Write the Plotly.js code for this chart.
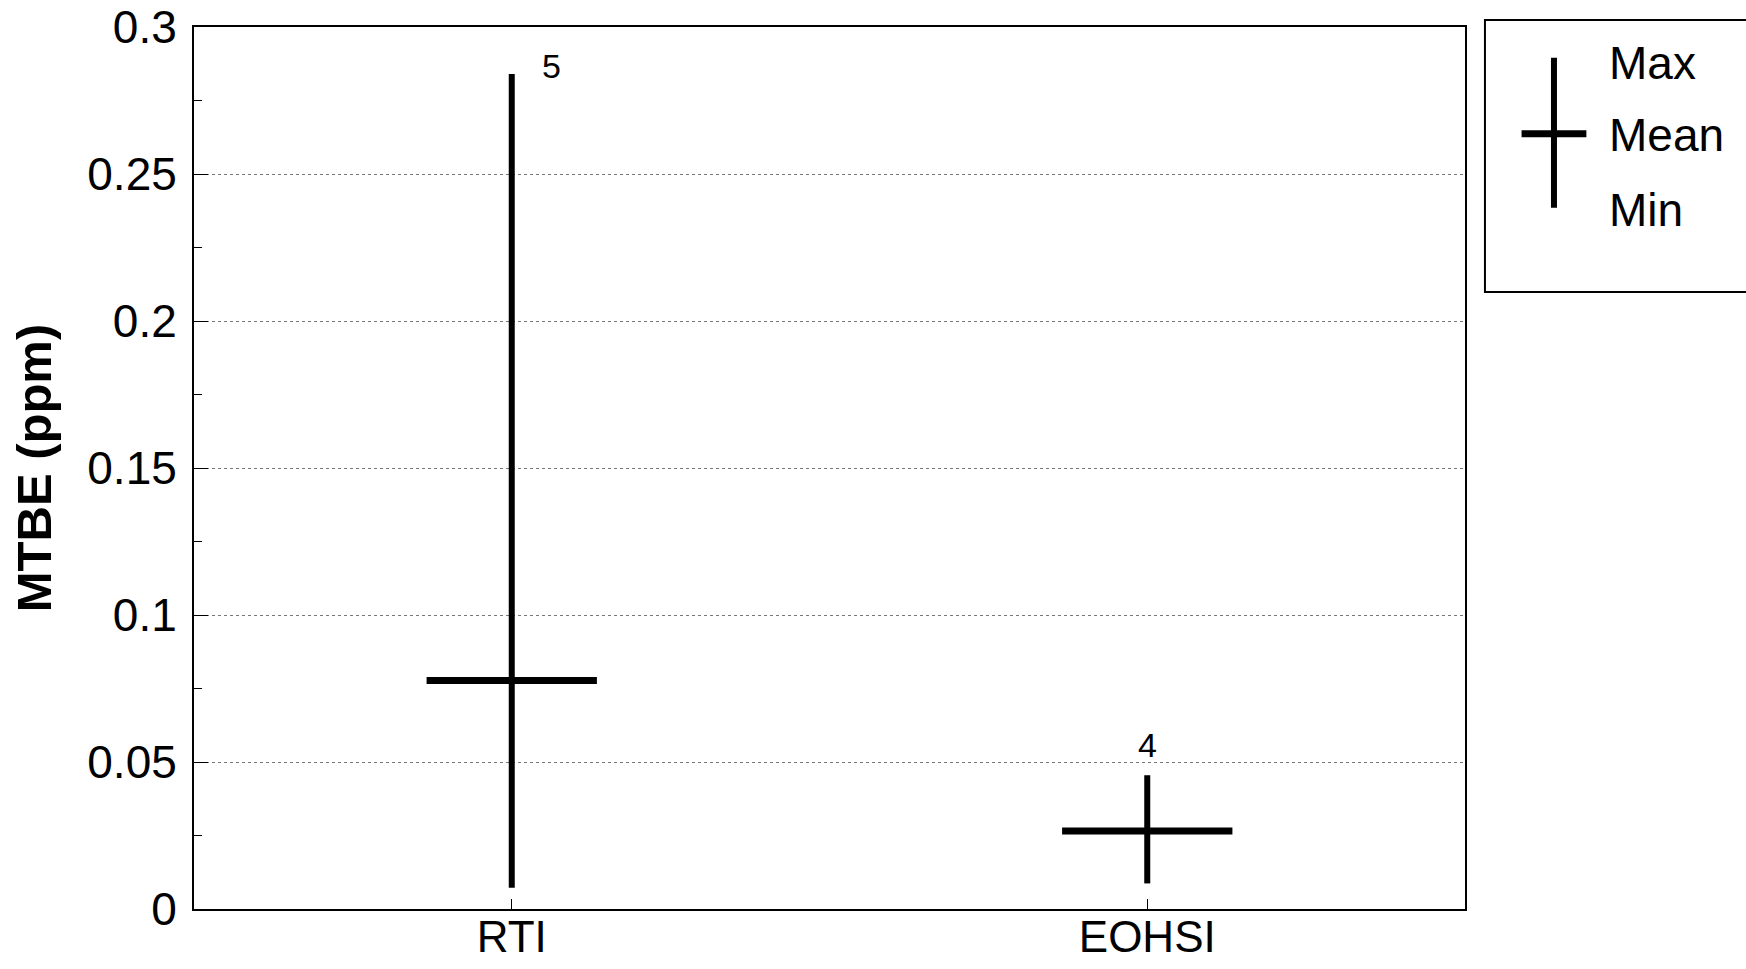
<!DOCTYPE html>
<html>
<head>
<meta charset="utf-8">
<script src="https://cdn.plot.ly/plotly-3.0.1.min.js"></script>
<style>
html,body{margin:0;padding:0;background:#fff;}
#chart{width:1746px;height:969px;}
</style>
</head>
<body>
<div id="chart"></div>
<script>
// Data
const categories = ["RTI", "EOHSI"];
const maxValues = [0.284, 0.0455];
const meanValues = [0.0777, 0.0265];
const minValues = [0.0072, 0.0087];
const counts = [5, 4];
const yTickVals = [0, 0.05, 0.1, 0.15, 0.2, 0.25, 0.3];
const yTickText = ["0", "0.05", "0.1", "0.15", "0.2", "0.25", "0.3"];
const legendLabels = ["Max", "Mean", "Min"];

const font = "Liberation Sans, Arial, Helvetica, sans-serif";
const xPos = categories.map((c, i) => i);

const trace = {
  type: "scatter",
  mode: "markers",
  x: xPos,
  y: meanValues,
  text: categories,
  marker: {size: 1, color: "rgba(0,0,0,0)"},
  error_y: {
    type: "data", symmetric: false,
    array: maxValues.map((v, i) => v - meanValues[i]),
    arrayminus: meanValues.map((v, i) => v - minValues[i]),
    thickness: 6, width: 0, color: "#000"
  },
  error_x: {type: "constant", value: 0.134, thickness: 7, width: 0, color: "#000"},
  showlegend: false,
  hoverinfo: "text+y"
};

const annotations = [];
// count labels
annotations.push({x: xPos[0], y: maxValues[0], xref: "x", yref: "y", text: String(counts[0]),
  showarrow: false, xanchor: "left", yanchor: "bottom", xshift: 28, yshift: -13,
  font: {family: font, size: 34, color: "#000"}});
annotations.push({x: xPos[1], y: maxValues[1], xref: "x", yref: "y", text: String(counts[1]),
  showarrow: false, xanchor: "center", yanchor: "bottom", yshift: 9,
  font: {family: font, size: 34, color: "#000"}});

// legend text
const legY = [0.959, 0.877, 0.7925];
legendLabels.forEach((t, i) => {
  annotations.push({x: 1.112, y: legY[i], xref: "paper", yref: "paper", text: t, showarrow: false,
    xanchor: "left", yanchor: "middle", font: {family: font, size: 46, color: "#000"}});
});

const shapes = [
  // legend box
  {type: "rect", xref: "paper", yref: "paper", x0: 1.0157, x1: 1.3, y0: 0.6995, y1: 1.008,
   line: {color: "#000", width: 2}, fillcolor: "rgba(0,0,0,0)"},
  // legend symbol vertical
  {type: "line", xref: "paper", yref: "paper", x0: 1.070, x1: 1.070, y0: 0.795, y1: 0.965,
   line: {color: "#000", width: 6}},
  // legend symbol horizontal
  {type: "line", xref: "paper", yref: "paper", x0: 1.0445, x1: 1.0955, y0: 0.879, y1: 0.879,
   line: {color: "#000", width: 7}}
];

const layout = {
  width: 1746, height: 969,
  margin: {l: 194, r: 281, t: 27, b: 60},
  paper_bgcolor: "#fff", plot_bgcolor: "#fff",
  font: {family: font, size: 45, color: "#000"},
  xaxis: {
    range: [-0.5, 1.5], tickvals: xPos, ticktext: categories,
    showline: true, linecolor: "#000", linewidth: 2, mirror: true,
    ticks: "inside", ticklen: 10, tickwidth: 1, tickcolor: "#000",
    showgrid: false, zeroline: false, ticklabelstandoff: -12,
    tickfont: {family: font, size: 44, color: "#000"}
  },
  yaxis: {
    range: [0, 0.3], tickvals: yTickVals, ticktext: yTickText,
    showline: true, linecolor: "#000", linewidth: 2, mirror: true,
    ticks: "inside", ticklen: 14, tickwidth: 1, tickcolor: "#000",
    minor: {dtick: 0.025, ticks: "inside", ticklen: 8, tickcolor: "#000", showgrid: false},
    showgrid: true, gridcolor: "#777", gridwidth: 1, griddash: "dot",
    zeroline: false, ticklabelstandoff: 6,
    tickfont: {family: font, size: 46, color: "#000"},
    title: {text: "<b>MTBE (ppm)</b>", font: {family: font, size: 49, color: "#000"}, standoff: 20}
  },
  shapes: shapes,
  annotations: annotations,
  showlegend: false
};

Plotly.newPlot("chart", [trace], layout, {displayModeBar: false, staticPlot: true});
</script>
</body>
</html>
